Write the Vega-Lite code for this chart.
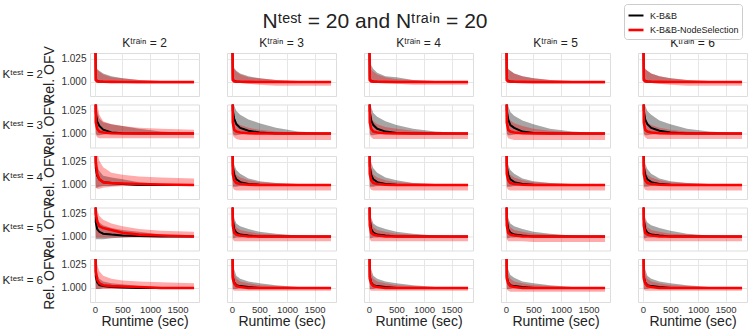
{
"$schema": "https://vega.github.io/schema/vega-lite/v6.json",
"padding": {"left": 2, "top": 3, "right": 2, "bottom": 0},
"title": {"text": "Nᵗᵉˢᵗ = 20 and Nᵗʳᵃⁱⁿ = 20", "fontSize": 21, "font": "Liberation Sans", "fontWeight": "normal", "anchor": "middle", "offset": -28, "color": "#222222"},
"data": {"values": [
{"r":2,"c":2,"m":"K-B&B","t":0,"y":1.1,"lo":1.05,"hi":1.2},
{"r":2,"c":2,"m":"K-B&B","t":15,"y":1.003,"lo":1,"hi":1.03},
{"r":2,"c":2,"m":"K-B&B","t":40,"y":1.001,"lo":1,"hi":1.014},
{"r":2,"c":2,"m":"K-B&B","t":80,"y":1.0005,"lo":1,"hi":1.012},
{"r":2,"c":2,"m":"K-B&B","t":150,"y":1.0002,"lo":1,"hi":1.009},
{"r":2,"c":2,"m":"K-B&B","t":300,"y":1.0001,"lo":1,"hi":1.006},
{"r":2,"c":2,"m":"K-B&B","t":500,"y":1,"lo":1,"hi":1.004},
{"r":2,"c":2,"m":"K-B&B","t":800,"y":1,"lo":1,"hi":1.002},
{"r":2,"c":2,"m":"K-B&B","t":1200,"y":1,"lo":1,"hi":1.001},
{"r":2,"c":2,"m":"K-B&B","t":1800,"y":1,"lo":1,"hi":1},
{"r":2,"c":2,"m":"K-B&B-NodeSelection","t":0,"y":1.1,"lo":1.05,"hi":1.2},
{"r":2,"c":2,"m":"K-B&B-NodeSelection","t":15,"y":1.002,"lo":0.999,"hi":1.029},
{"r":2,"c":2,"m":"K-B&B-NodeSelection","t":40,"y":1.0008,"lo":0.999,"hi":1.013},
{"r":2,"c":2,"m":"K-B&B-NodeSelection","t":80,"y":1.0004,"lo":0.999,"hi":1.011},
{"r":2,"c":2,"m":"K-B&B-NodeSelection","t":150,"y":1.0002,"lo":0.999,"hi":1.008},
{"r":2,"c":2,"m":"K-B&B-NodeSelection","t":300,"y":1.0001,"lo":0.999,"hi":1.005},
{"r":2,"c":2,"m":"K-B&B-NodeSelection","t":500,"y":1,"lo":0.999,"hi":1.004},
{"r":2,"c":2,"m":"K-B&B-NodeSelection","t":800,"y":1,"lo":0.998,"hi":1.002},
{"r":2,"c":2,"m":"K-B&B-NodeSelection","t":1200,"y":1,"lo":0.998,"hi":1.001},
{"r":2,"c":2,"m":"K-B&B-NodeSelection","t":1800,"y":1,"lo":0.998,"hi":1},
{"r":2,"c":3,"m":"K-B&B","t":0,"y":1.1,"lo":1.05,"hi":1.2},
{"r":2,"c":3,"m":"K-B&B","t":15,"y":1.003,"lo":1,"hi":1.03},
{"r":2,"c":3,"m":"K-B&B","t":40,"y":1.001,"lo":1,"hi":1.015},
{"r":2,"c":3,"m":"K-B&B","t":80,"y":1.0005,"lo":1,"hi":1.012},
{"r":2,"c":3,"m":"K-B&B","t":150,"y":1.0002,"lo":1,"hi":1.009},
{"r":2,"c":3,"m":"K-B&B","t":300,"y":1.0001,"lo":1,"hi":1.006},
{"r":2,"c":3,"m":"K-B&B","t":500,"y":1,"lo":1,"hi":1.004},
{"r":2,"c":3,"m":"K-B&B","t":800,"y":1,"lo":1,"hi":1.002},
{"r":2,"c":3,"m":"K-B&B","t":1200,"y":1,"lo":1,"hi":1.001},
{"r":2,"c":3,"m":"K-B&B","t":1800,"y":1,"lo":1,"hi":1},
{"r":2,"c":3,"m":"K-B&B-NodeSelection","t":0,"y":1.1,"lo":1.05,"hi":1.2},
{"r":2,"c":3,"m":"K-B&B-NodeSelection","t":15,"y":1.002,"lo":0.999,"hi":1.029},
{"r":2,"c":3,"m":"K-B&B-NodeSelection","t":40,"y":1.0008,"lo":0.999,"hi":1.014},
{"r":2,"c":3,"m":"K-B&B-NodeSelection","t":80,"y":1.0004,"lo":0.999,"hi":1.011},
{"r":2,"c":3,"m":"K-B&B-NodeSelection","t":150,"y":1.0002,"lo":0.999,"hi":1.008},
{"r":2,"c":3,"m":"K-B&B-NodeSelection","t":300,"y":1.0001,"lo":0.998,"hi":1.005},
{"r":2,"c":3,"m":"K-B&B-NodeSelection","t":500,"y":1,"lo":0.997,"hi":1.004},
{"r":2,"c":3,"m":"K-B&B-NodeSelection","t":800,"y":1,"lo":0.996,"hi":1.002},
{"r":2,"c":3,"m":"K-B&B-NodeSelection","t":1200,"y":1,"lo":0.996,"hi":1.001},
{"r":2,"c":3,"m":"K-B&B-NodeSelection","t":1800,"y":1,"lo":0.996,"hi":1},
{"r":2,"c":4,"m":"K-B&B","t":0,"y":1.1,"lo":1.05,"hi":1.2},
{"r":2,"c":4,"m":"K-B&B","t":15,"y":1.003,"lo":1,"hi":1.031},
{"r":2,"c":4,"m":"K-B&B","t":40,"y":1.001,"lo":1,"hi":1.018},
{"r":2,"c":4,"m":"K-B&B","t":80,"y":1.0005,"lo":1,"hi":1.014},
{"r":2,"c":4,"m":"K-B&B","t":150,"y":1.0002,"lo":1,"hi":1.01},
{"r":2,"c":4,"m":"K-B&B","t":300,"y":1.0001,"lo":1,"hi":1.006},
{"r":2,"c":4,"m":"K-B&B","t":500,"y":1,"lo":1,"hi":1.005},
{"r":2,"c":4,"m":"K-B&B","t":800,"y":1,"lo":1,"hi":1.002},
{"r":2,"c":4,"m":"K-B&B","t":1200,"y":1,"lo":1,"hi":1.001},
{"r":2,"c":4,"m":"K-B&B","t":1800,"y":1,"lo":1,"hi":1},
{"r":2,"c":4,"m":"K-B&B-NodeSelection","t":0,"y":1.1,"lo":1.05,"hi":1.2},
{"r":2,"c":4,"m":"K-B&B-NodeSelection","t":15,"y":1.002,"lo":0.999,"hi":1.029},
{"r":2,"c":4,"m":"K-B&B-NodeSelection","t":40,"y":1.0008,"lo":0.999,"hi":1.013},
{"r":2,"c":4,"m":"K-B&B-NodeSelection","t":80,"y":1.0004,"lo":0.999,"hi":1.011},
{"r":2,"c":4,"m":"K-B&B-NodeSelection","t":150,"y":1.0002,"lo":0.999,"hi":1.008},
{"r":2,"c":4,"m":"K-B&B-NodeSelection","t":300,"y":1.0001,"lo":0.999,"hi":1.005},
{"r":2,"c":4,"m":"K-B&B-NodeSelection","t":500,"y":1,"lo":0.998,"hi":1.003},
{"r":2,"c":4,"m":"K-B&B-NodeSelection","t":800,"y":1,"lo":0.997,"hi":1.002},
{"r":2,"c":4,"m":"K-B&B-NodeSelection","t":1200,"y":1,"lo":0.997,"hi":1.001},
{"r":2,"c":4,"m":"K-B&B-NodeSelection","t":1800,"y":1,"lo":0.997,"hi":1},
{"r":2,"c":5,"m":"K-B&B","t":0,"y":1.1,"lo":1.05,"hi":1.2},
{"r":2,"c":5,"m":"K-B&B","t":15,"y":1.003,"lo":1,"hi":1.03},
{"r":2,"c":5,"m":"K-B&B","t":40,"y":1.001,"lo":1,"hi":1.014},
{"r":2,"c":5,"m":"K-B&B","t":80,"y":1.0005,"lo":1,"hi":1.012},
{"r":2,"c":5,"m":"K-B&B","t":150,"y":1.0002,"lo":1,"hi":1.009},
{"r":2,"c":5,"m":"K-B&B","t":300,"y":1.0001,"lo":1,"hi":1.006},
{"r":2,"c":5,"m":"K-B&B","t":500,"y":1,"lo":1,"hi":1.004},
{"r":2,"c":5,"m":"K-B&B","t":800,"y":1,"lo":1,"hi":1.002},
{"r":2,"c":5,"m":"K-B&B","t":1200,"y":1,"lo":1,"hi":1.001},
{"r":2,"c":5,"m":"K-B&B","t":1800,"y":1,"lo":1,"hi":1},
{"r":2,"c":5,"m":"K-B&B-NodeSelection","t":0,"y":1.1,"lo":1.05,"hi":1.2},
{"r":2,"c":5,"m":"K-B&B-NodeSelection","t":15,"y":1.002,"lo":0.999,"hi":1.029},
{"r":2,"c":5,"m":"K-B&B-NodeSelection","t":40,"y":1.0008,"lo":0.999,"hi":1.014},
{"r":2,"c":5,"m":"K-B&B-NodeSelection","t":80,"y":1.0004,"lo":0.999,"hi":1.012},
{"r":2,"c":5,"m":"K-B&B-NodeSelection","t":150,"y":1.0002,"lo":0.999,"hi":1.009},
{"r":2,"c":5,"m":"K-B&B-NodeSelection","t":300,"y":1.0001,"lo":0.999,"hi":1.006},
{"r":2,"c":5,"m":"K-B&B-NodeSelection","t":500,"y":1,"lo":0.998,"hi":1.004},
{"r":2,"c":5,"m":"K-B&B-NodeSelection","t":800,"y":1,"lo":0.998,"hi":1.002},
{"r":2,"c":5,"m":"K-B&B-NodeSelection","t":1200,"y":1,"lo":0.998,"hi":1.001},
{"r":2,"c":5,"m":"K-B&B-NodeSelection","t":1800,"y":1,"lo":0.998,"hi":1},
{"r":2,"c":6,"m":"K-B&B","t":0,"y":1.1,"lo":1.05,"hi":1.2},
{"r":2,"c":6,"m":"K-B&B","t":15,"y":1.003,"lo":1,"hi":1.03},
{"r":2,"c":6,"m":"K-B&B","t":40,"y":1.001,"lo":1,"hi":1.014},
{"r":2,"c":6,"m":"K-B&B","t":80,"y":1.0005,"lo":1,"hi":1.012},
{"r":2,"c":6,"m":"K-B&B","t":150,"y":1.0002,"lo":1,"hi":1.009},
{"r":2,"c":6,"m":"K-B&B","t":300,"y":1.0001,"lo":1,"hi":1.006},
{"r":2,"c":6,"m":"K-B&B","t":500,"y":1,"lo":1,"hi":1.004},
{"r":2,"c":6,"m":"K-B&B","t":800,"y":1,"lo":1,"hi":1.002},
{"r":2,"c":6,"m":"K-B&B","t":1200,"y":1,"lo":1,"hi":1.001},
{"r":2,"c":6,"m":"K-B&B","t":1800,"y":1,"lo":1,"hi":1},
{"r":2,"c":6,"m":"K-B&B-NodeSelection","t":0,"y":1.1,"lo":1.05,"hi":1.2},
{"r":2,"c":6,"m":"K-B&B-NodeSelection","t":15,"y":1.002,"lo":0.999,"hi":1.029},
{"r":2,"c":6,"m":"K-B&B-NodeSelection","t":40,"y":1.0008,"lo":0.999,"hi":1.014},
{"r":2,"c":6,"m":"K-B&B-NodeSelection","t":80,"y":1.0004,"lo":0.999,"hi":1.012},
{"r":2,"c":6,"m":"K-B&B-NodeSelection","t":150,"y":1.0002,"lo":0.999,"hi":1.009},
{"r":2,"c":6,"m":"K-B&B-NodeSelection","t":300,"y":1.0001,"lo":0.998,"hi":1.006},
{"r":2,"c":6,"m":"K-B&B-NodeSelection","t":500,"y":1,"lo":0.997,"hi":1.004},
{"r":2,"c":6,"m":"K-B&B-NodeSelection","t":800,"y":1,"lo":0.996,"hi":1.002},
{"r":2,"c":6,"m":"K-B&B-NodeSelection","t":1200,"y":1,"lo":0.996,"hi":1.001},
{"r":2,"c":6,"m":"K-B&B-NodeSelection","t":1800,"y":1,"lo":0.996,"hi":1},
{"r":3,"c":2,"m":"K-B&B","t":0,"y":1.1,"lo":1.05,"hi":1.2},
{"r":3,"c":2,"m":"K-B&B","t":15,"y":1.022,"lo":1,"hi":1.04},
{"r":3,"c":2,"m":"K-B&B","t":40,"y":1.013,"lo":0.998,"hi":1.025},
{"r":3,"c":2,"m":"K-B&B","t":80,"y":1.008,"lo":0.998,"hi":1.016},
{"r":3,"c":2,"m":"K-B&B","t":150,"y":1.004,"lo":0.999,"hi":1.012},
{"r":3,"c":2,"m":"K-B&B","t":300,"y":1.001,"lo":1,"hi":1.01},
{"r":3,"c":2,"m":"K-B&B","t":500,"y":1.0002,"lo":1,"hi":1.008},
{"r":3,"c":2,"m":"K-B&B","t":800,"y":1,"lo":1,"hi":1.005},
{"r":3,"c":2,"m":"K-B&B","t":1200,"y":1,"lo":1,"hi":1.002},
{"r":3,"c":2,"m":"K-B&B","t":1800,"y":1,"lo":1,"hi":1},
{"r":3,"c":2,"m":"K-B&B-NodeSelection","t":0,"y":1.1,"lo":1.05,"hi":1.2},
{"r":3,"c":2,"m":"K-B&B-NodeSelection","t":15,"y":1.012,"lo":0.998,"hi":1.045},
{"r":3,"c":2,"m":"K-B&B-NodeSelection","t":40,"y":1.005,"lo":0.996,"hi":1.032},
{"r":3,"c":2,"m":"K-B&B-NodeSelection","t":80,"y":1.002,"lo":0.995,"hi":1.02},
{"r":3,"c":2,"m":"K-B&B-NodeSelection","t":150,"y":1.001,"lo":0.995,"hi":1.013},
{"r":3,"c":2,"m":"K-B&B-NodeSelection","t":300,"y":1.0003,"lo":0.995,"hi":1.01},
{"r":3,"c":2,"m":"K-B&B-NodeSelection","t":500,"y":1,"lo":0.995,"hi":1.008},
{"r":3,"c":2,"m":"K-B&B-NodeSelection","t":800,"y":1,"lo":0.995,"hi":1.006},
{"r":3,"c":2,"m":"K-B&B-NodeSelection","t":1200,"y":1,"lo":0.995,"hi":1.005},
{"r":3,"c":2,"m":"K-B&B-NodeSelection","t":1800,"y":1,"lo":0.995,"hi":1.004},
{"r":3,"c":3,"m":"K-B&B","t":0,"y":1.1,"lo":1.05,"hi":1.2},
{"r":3,"c":3,"m":"K-B&B","t":15,"y":1.025,"lo":1,"hi":1.04},
{"r":3,"c":3,"m":"K-B&B","t":40,"y":1.016,"lo":0.998,"hi":1.03},
{"r":3,"c":3,"m":"K-B&B","t":80,"y":1.01,"lo":0.998,"hi":1.024},
{"r":3,"c":3,"m":"K-B&B","t":150,"y":1.006,"lo":0.999,"hi":1.02},
{"r":3,"c":3,"m":"K-B&B","t":300,"y":1.003,"lo":1,"hi":1.015},
{"r":3,"c":3,"m":"K-B&B","t":500,"y":1.001,"lo":1,"hi":1.011},
{"r":3,"c":3,"m":"K-B&B","t":800,"y":1,"lo":1,"hi":1.006},
{"r":3,"c":3,"m":"K-B&B","t":1200,"y":1,"lo":1,"hi":1.002},
{"r":3,"c":3,"m":"K-B&B","t":1800,"y":1,"lo":1,"hi":1},
{"r":3,"c":3,"m":"K-B&B-NodeSelection","t":0,"y":1.1,"lo":1.05,"hi":1.2},
{"r":3,"c":3,"m":"K-B&B-NodeSelection","t":15,"y":1.012,"lo":0.998,"hi":1.035},
{"r":3,"c":3,"m":"K-B&B-NodeSelection","t":40,"y":1.004,"lo":0.996,"hi":1.018},
{"r":3,"c":3,"m":"K-B&B-NodeSelection","t":80,"y":1.002,"lo":0.994,"hi":1.012},
{"r":3,"c":3,"m":"K-B&B-NodeSelection","t":150,"y":1.001,"lo":0.993,"hi":1.009},
{"r":3,"c":3,"m":"K-B&B-NodeSelection","t":300,"y":1.0003,"lo":0.993,"hi":1.006},
{"r":3,"c":3,"m":"K-B&B-NodeSelection","t":500,"y":1,"lo":0.993,"hi":1.004},
{"r":3,"c":3,"m":"K-B&B-NodeSelection","t":800,"y":1,"lo":0.993,"hi":1.002},
{"r":3,"c":3,"m":"K-B&B-NodeSelection","t":1200,"y":1,"lo":0.993,"hi":1.001},
{"r":3,"c":3,"m":"K-B&B-NodeSelection","t":1800,"y":1,"lo":0.993,"hi":1},
{"r":3,"c":4,"m":"K-B&B","t":0,"y":1.1,"lo":1.05,"hi":1.2},
{"r":3,"c":4,"m":"K-B&B","t":15,"y":1.024,"lo":1,"hi":1.04},
{"r":3,"c":4,"m":"K-B&B","t":40,"y":1.014,"lo":0.998,"hi":1.028},
{"r":3,"c":4,"m":"K-B&B","t":80,"y":1.009,"lo":0.998,"hi":1.022},
{"r":3,"c":4,"m":"K-B&B","t":150,"y":1.005,"lo":0.999,"hi":1.018},
{"r":3,"c":4,"m":"K-B&B","t":300,"y":1.002,"lo":1,"hi":1.013},
{"r":3,"c":4,"m":"K-B&B","t":500,"y":1.0005,"lo":1,"hi":1.009},
{"r":3,"c":4,"m":"K-B&B","t":800,"y":1,"lo":1,"hi":1.005},
{"r":3,"c":4,"m":"K-B&B","t":1200,"y":1,"lo":1,"hi":1.002},
{"r":3,"c":4,"m":"K-B&B","t":1800,"y":1,"lo":1,"hi":1},
{"r":3,"c":4,"m":"K-B&B-NodeSelection","t":0,"y":1.1,"lo":1.05,"hi":1.2},
{"r":3,"c":4,"m":"K-B&B-NodeSelection","t":15,"y":1.012,"lo":0.998,"hi":1.035},
{"r":3,"c":4,"m":"K-B&B-NodeSelection","t":40,"y":1.005,"lo":0.996,"hi":1.02},
{"r":3,"c":4,"m":"K-B&B-NodeSelection","t":80,"y":1.002,"lo":0.994,"hi":1.013},
{"r":3,"c":4,"m":"K-B&B-NodeSelection","t":150,"y":1.001,"lo":0.994,"hi":1.01},
{"r":3,"c":4,"m":"K-B&B-NodeSelection","t":300,"y":1.0003,"lo":0.994,"hi":1.007},
{"r":3,"c":4,"m":"K-B&B-NodeSelection","t":500,"y":1,"lo":0.994,"hi":1.005},
{"r":3,"c":4,"m":"K-B&B-NodeSelection","t":800,"y":1,"lo":0.994,"hi":1.003},
{"r":3,"c":4,"m":"K-B&B-NodeSelection","t":1200,"y":1,"lo":0.994,"hi":1.001},
{"r":3,"c":4,"m":"K-B&B-NodeSelection","t":1800,"y":1,"lo":0.994,"hi":1},
{"r":3,"c":5,"m":"K-B&B","t":0,"y":1.1,"lo":1.05,"hi":1.2},
{"r":3,"c":5,"m":"K-B&B","t":15,"y":1.025,"lo":1,"hi":1.04},
{"r":3,"c":5,"m":"K-B&B","t":40,"y":1.015,"lo":0.998,"hi":1.03},
{"r":3,"c":5,"m":"K-B&B","t":80,"y":1.009,"lo":0.998,"hi":1.023},
{"r":3,"c":5,"m":"K-B&B","t":150,"y":1.006,"lo":0.999,"hi":1.019},
{"r":3,"c":5,"m":"K-B&B","t":300,"y":1.002,"lo":1,"hi":1.014},
{"r":3,"c":5,"m":"K-B&B","t":500,"y":1.0005,"lo":1,"hi":1.01},
{"r":3,"c":5,"m":"K-B&B","t":800,"y":1,"lo":1,"hi":1.005},
{"r":3,"c":5,"m":"K-B&B","t":1200,"y":1,"lo":1,"hi":1.002},
{"r":3,"c":5,"m":"K-B&B","t":1800,"y":1,"lo":1,"hi":1},
{"r":3,"c":5,"m":"K-B&B-NodeSelection","t":0,"y":1.1,"lo":1.05,"hi":1.2},
{"r":3,"c":5,"m":"K-B&B-NodeSelection","t":15,"y":1.012,"lo":0.998,"hi":1.035},
{"r":3,"c":5,"m":"K-B&B-NodeSelection","t":40,"y":1.004,"lo":0.995,"hi":1.02},
{"r":3,"c":5,"m":"K-B&B-NodeSelection","t":80,"y":1.002,"lo":0.994,"hi":1.014},
{"r":3,"c":5,"m":"K-B&B-NodeSelection","t":150,"y":1.001,"lo":0.993,"hi":1.011},
{"r":3,"c":5,"m":"K-B&B-NodeSelection","t":300,"y":1.0003,"lo":0.993,"hi":1.008},
{"r":3,"c":5,"m":"K-B&B-NodeSelection","t":500,"y":1,"lo":0.993,"hi":1.005},
{"r":3,"c":5,"m":"K-B&B-NodeSelection","t":800,"y":1,"lo":0.993,"hi":1.003},
{"r":3,"c":5,"m":"K-B&B-NodeSelection","t":1200,"y":1,"lo":0.993,"hi":1.001},
{"r":3,"c":5,"m":"K-B&B-NodeSelection","t":1800,"y":1,"lo":0.993,"hi":1},
{"r":3,"c":6,"m":"K-B&B","t":0,"y":1.1,"lo":1.05,"hi":1.2},
{"r":3,"c":6,"m":"K-B&B","t":15,"y":1.025,"lo":1,"hi":1.04},
{"r":3,"c":6,"m":"K-B&B","t":40,"y":1.015,"lo":0.998,"hi":1.03},
{"r":3,"c":6,"m":"K-B&B","t":80,"y":1.01,"lo":0.998,"hi":1.024},
{"r":3,"c":6,"m":"K-B&B","t":150,"y":1.006,"lo":0.999,"hi":1.02},
{"r":3,"c":6,"m":"K-B&B","t":300,"y":1.003,"lo":1,"hi":1.014},
{"r":3,"c":6,"m":"K-B&B","t":500,"y":1.001,"lo":1,"hi":1.01},
{"r":3,"c":6,"m":"K-B&B","t":800,"y":1,"lo":1,"hi":1.005},
{"r":3,"c":6,"m":"K-B&B","t":1200,"y":1,"lo":1,"hi":1.002},
{"r":3,"c":6,"m":"K-B&B","t":1800,"y":1,"lo":1,"hi":1},
{"r":3,"c":6,"m":"K-B&B-NodeSelection","t":0,"y":1.1,"lo":1.05,"hi":1.2},
{"r":3,"c":6,"m":"K-B&B-NodeSelection","t":15,"y":1.012,"lo":0.998,"hi":1.035},
{"r":3,"c":6,"m":"K-B&B-NodeSelection","t":40,"y":1.004,"lo":0.996,"hi":1.018},
{"r":3,"c":6,"m":"K-B&B-NodeSelection","t":80,"y":1.002,"lo":0.994,"hi":1.012},
{"r":3,"c":6,"m":"K-B&B-NodeSelection","t":150,"y":1.001,"lo":0.994,"hi":1.009},
{"r":3,"c":6,"m":"K-B&B-NodeSelection","t":300,"y":1.0003,"lo":0.994,"hi":1.006},
{"r":3,"c":6,"m":"K-B&B-NodeSelection","t":500,"y":1,"lo":0.994,"hi":1.004},
{"r":3,"c":6,"m":"K-B&B-NodeSelection","t":800,"y":1,"lo":0.994,"hi":1.002},
{"r":3,"c":6,"m":"K-B&B-NodeSelection","t":1200,"y":1,"lo":0.994,"hi":1.001},
{"r":3,"c":6,"m":"K-B&B-NodeSelection","t":1800,"y":1,"lo":0.994,"hi":1},
{"r":4,"c":2,"m":"K-B&B","t":0,"y":1.1,"lo":1.05,"hi":1.2},
{"r":4,"c":2,"m":"K-B&B","t":15,"y":1.018,"lo":0.997,"hi":1.03},
{"r":4,"c":2,"m":"K-B&B","t":40,"y":1.01,"lo":0.997,"hi":1.02},
{"r":4,"c":2,"m":"K-B&B","t":80,"y":1.006,"lo":0.998,"hi":1.015},
{"r":4,"c":2,"m":"K-B&B","t":150,"y":1.003,"lo":0.999,"hi":1.01},
{"r":4,"c":2,"m":"K-B&B","t":300,"y":1.002,"lo":0.999,"hi":1.008},
{"r":4,"c":2,"m":"K-B&B","t":500,"y":1.001,"lo":1,"hi":1.006},
{"r":4,"c":2,"m":"K-B&B","t":800,"y":1,"lo":1,"hi":1.003},
{"r":4,"c":2,"m":"K-B&B","t":1200,"y":1,"lo":1,"hi":1.001},
{"r":4,"c":2,"m":"K-B&B","t":1800,"y":1,"lo":1,"hi":1},
{"r":4,"c":2,"m":"K-B&B-NodeSelection","t":0,"y":1.1,"lo":1.05,"hi":1.2},
{"r":4,"c":2,"m":"K-B&B-NodeSelection","t":15,"y":1.025,"lo":0.997,"hi":1.045},
{"r":4,"c":2,"m":"K-B&B-NodeSelection","t":40,"y":1.012,"lo":0.996,"hi":1.034},
{"r":4,"c":2,"m":"K-B&B-NodeSelection","t":80,"y":1.006,"lo":0.996,"hi":1.026},
{"r":4,"c":2,"m":"K-B&B-NodeSelection","t":150,"y":1.003,"lo":0.997,"hi":1.019},
{"r":4,"c":2,"m":"K-B&B-NodeSelection","t":300,"y":1.002,"lo":0.998,"hi":1.013},
{"r":4,"c":2,"m":"K-B&B-NodeSelection","t":500,"y":1.0015,"lo":0.999,"hi":1.011},
{"r":4,"c":2,"m":"K-B&B-NodeSelection","t":800,"y":1.001,"lo":0.999,"hi":1.009},
{"r":4,"c":2,"m":"K-B&B-NodeSelection","t":1200,"y":1.0005,"lo":0.999,"hi":1.008},
{"r":4,"c":2,"m":"K-B&B-NodeSelection","t":1800,"y":1,"lo":0.999,"hi":1.007},
{"r":4,"c":3,"m":"K-B&B","t":0,"y":1.1,"lo":1.05,"hi":1.2},
{"r":4,"c":3,"m":"K-B&B","t":15,"y":1.02,"lo":0.998,"hi":1.035},
{"r":4,"c":3,"m":"K-B&B","t":40,"y":1.011,"lo":0.998,"hi":1.022},
{"r":4,"c":3,"m":"K-B&B","t":80,"y":1.006,"lo":0.998,"hi":1.016},
{"r":4,"c":3,"m":"K-B&B","t":150,"y":1.003,"lo":0.999,"hi":1.012},
{"r":4,"c":3,"m":"K-B&B","t":300,"y":1.001,"lo":1,"hi":1.007},
{"r":4,"c":3,"m":"K-B&B","t":500,"y":1.0003,"lo":1,"hi":1.004},
{"r":4,"c":3,"m":"K-B&B","t":800,"y":1,"lo":1,"hi":1.002},
{"r":4,"c":3,"m":"K-B&B","t":1200,"y":1,"lo":1,"hi":1.001},
{"r":4,"c":3,"m":"K-B&B","t":1800,"y":1,"lo":1,"hi":1},
{"r":4,"c":3,"m":"K-B&B-NodeSelection","t":0,"y":1.1,"lo":1.05,"hi":1.2},
{"r":4,"c":3,"m":"K-B&B-NodeSelection","t":15,"y":1.012,"lo":0.997,"hi":1.03},
{"r":4,"c":3,"m":"K-B&B-NodeSelection","t":40,"y":1.005,"lo":0.995,"hi":1.018},
{"r":4,"c":3,"m":"K-B&B-NodeSelection","t":80,"y":1.002,"lo":0.994,"hi":1.011},
{"r":4,"c":3,"m":"K-B&B-NodeSelection","t":150,"y":1.001,"lo":0.994,"hi":1.008},
{"r":4,"c":3,"m":"K-B&B-NodeSelection","t":300,"y":1.0003,"lo":0.994,"hi":1.005},
{"r":4,"c":3,"m":"K-B&B-NodeSelection","t":500,"y":1,"lo":0.994,"hi":1.003},
{"r":4,"c":3,"m":"K-B&B-NodeSelection","t":800,"y":1,"lo":0.994,"hi":1.002},
{"r":4,"c":3,"m":"K-B&B-NodeSelection","t":1200,"y":1,"lo":0.994,"hi":1.001},
{"r":4,"c":3,"m":"K-B&B-NodeSelection","t":1800,"y":1,"lo":0.994,"hi":1},
{"r":4,"c":4,"m":"K-B&B","t":0,"y":1.1,"lo":1.05,"hi":1.2},
{"r":4,"c":4,"m":"K-B&B","t":15,"y":1.02,"lo":0.998,"hi":1.035},
{"r":4,"c":4,"m":"K-B&B","t":40,"y":1.011,"lo":0.998,"hi":1.024},
{"r":4,"c":4,"m":"K-B&B","t":80,"y":1.006,"lo":0.998,"hi":1.018},
{"r":4,"c":4,"m":"K-B&B","t":150,"y":1.003,"lo":0.999,"hi":1.013},
{"r":4,"c":4,"m":"K-B&B","t":300,"y":1.001,"lo":1,"hi":1.008},
{"r":4,"c":4,"m":"K-B&B","t":500,"y":1.0003,"lo":1,"hi":1.005},
{"r":4,"c":4,"m":"K-B&B","t":800,"y":1,"lo":1,"hi":1.002},
{"r":4,"c":4,"m":"K-B&B","t":1200,"y":1,"lo":1,"hi":1.001},
{"r":4,"c":4,"m":"K-B&B","t":1800,"y":1,"lo":1,"hi":1},
{"r":4,"c":4,"m":"K-B&B-NodeSelection","t":0,"y":1.1,"lo":1.05,"hi":1.2},
{"r":4,"c":4,"m":"K-B&B-NodeSelection","t":15,"y":1.012,"lo":0.997,"hi":1.03},
{"r":4,"c":4,"m":"K-B&B-NodeSelection","t":40,"y":1.005,"lo":0.995,"hi":1.018},
{"r":4,"c":4,"m":"K-B&B-NodeSelection","t":80,"y":1.002,"lo":0.994,"hi":1.011},
{"r":4,"c":4,"m":"K-B&B-NodeSelection","t":150,"y":1.001,"lo":0.994,"hi":1.008},
{"r":4,"c":4,"m":"K-B&B-NodeSelection","t":300,"y":1.0003,"lo":0.994,"hi":1.005},
{"r":4,"c":4,"m":"K-B&B-NodeSelection","t":500,"y":1,"lo":0.994,"hi":1.003},
{"r":4,"c":4,"m":"K-B&B-NodeSelection","t":800,"y":1,"lo":0.994,"hi":1.002},
{"r":4,"c":4,"m":"K-B&B-NodeSelection","t":1200,"y":1,"lo":0.994,"hi":1.001},
{"r":4,"c":4,"m":"K-B&B-NodeSelection","t":1800,"y":1,"lo":0.994,"hi":1},
{"r":4,"c":5,"m":"K-B&B","t":0,"y":1.1,"lo":1.05,"hi":1.2},
{"r":4,"c":5,"m":"K-B&B","t":15,"y":1.02,"lo":0.998,"hi":1.035},
{"r":4,"c":5,"m":"K-B&B","t":40,"y":1.011,"lo":0.998,"hi":1.022},
{"r":4,"c":5,"m":"K-B&B","t":80,"y":1.006,"lo":0.998,"hi":1.016},
{"r":4,"c":5,"m":"K-B&B","t":150,"y":1.003,"lo":0.999,"hi":1.012},
{"r":4,"c":5,"m":"K-B&B","t":300,"y":1.001,"lo":1,"hi":1.007},
{"r":4,"c":5,"m":"K-B&B","t":500,"y":1.0003,"lo":1,"hi":1.004},
{"r":4,"c":5,"m":"K-B&B","t":800,"y":1,"lo":1,"hi":1.002},
{"r":4,"c":5,"m":"K-B&B","t":1200,"y":1,"lo":1,"hi":1.001},
{"r":4,"c":5,"m":"K-B&B","t":1800,"y":1,"lo":1,"hi":1},
{"r":4,"c":5,"m":"K-B&B-NodeSelection","t":0,"y":1.1,"lo":1.05,"hi":1.2},
{"r":4,"c":5,"m":"K-B&B-NodeSelection","t":15,"y":1.012,"lo":0.997,"hi":1.03},
{"r":4,"c":5,"m":"K-B&B-NodeSelection","t":40,"y":1.005,"lo":0.995,"hi":1.018},
{"r":4,"c":5,"m":"K-B&B-NodeSelection","t":80,"y":1.002,"lo":0.994,"hi":1.011},
{"r":4,"c":5,"m":"K-B&B-NodeSelection","t":150,"y":1.001,"lo":0.994,"hi":1.008},
{"r":4,"c":5,"m":"K-B&B-NodeSelection","t":300,"y":1.0003,"lo":0.994,"hi":1.005},
{"r":4,"c":5,"m":"K-B&B-NodeSelection","t":500,"y":1,"lo":0.994,"hi":1.003},
{"r":4,"c":5,"m":"K-B&B-NodeSelection","t":800,"y":1,"lo":0.994,"hi":1.002},
{"r":4,"c":5,"m":"K-B&B-NodeSelection","t":1200,"y":1,"lo":0.994,"hi":1.001},
{"r":4,"c":5,"m":"K-B&B-NodeSelection","t":1800,"y":1,"lo":0.994,"hi":1},
{"r":4,"c":6,"m":"K-B&B","t":0,"y":1.1,"lo":1.05,"hi":1.2},
{"r":4,"c":6,"m":"K-B&B","t":15,"y":1.02,"lo":0.998,"hi":1.035},
{"r":4,"c":6,"m":"K-B&B","t":40,"y":1.011,"lo":0.998,"hi":1.023},
{"r":4,"c":6,"m":"K-B&B","t":80,"y":1.006,"lo":0.998,"hi":1.017},
{"r":4,"c":6,"m":"K-B&B","t":150,"y":1.003,"lo":0.999,"hi":1.012},
{"r":4,"c":6,"m":"K-B&B","t":300,"y":1.001,"lo":1,"hi":1.007},
{"r":4,"c":6,"m":"K-B&B","t":500,"y":1.0003,"lo":1,"hi":1.004},
{"r":4,"c":6,"m":"K-B&B","t":800,"y":1,"lo":1,"hi":1.002},
{"r":4,"c":6,"m":"K-B&B","t":1200,"y":1,"lo":1,"hi":1.001},
{"r":4,"c":6,"m":"K-B&B","t":1800,"y":1,"lo":1,"hi":1},
{"r":4,"c":6,"m":"K-B&B-NodeSelection","t":0,"y":1.1,"lo":1.05,"hi":1.2},
{"r":4,"c":6,"m":"K-B&B-NodeSelection","t":15,"y":1.012,"lo":0.997,"hi":1.03},
{"r":4,"c":6,"m":"K-B&B-NodeSelection","t":40,"y":1.005,"lo":0.995,"hi":1.018},
{"r":4,"c":6,"m":"K-B&B-NodeSelection","t":80,"y":1.002,"lo":0.994,"hi":1.011},
{"r":4,"c":6,"m":"K-B&B-NodeSelection","t":150,"y":1.001,"lo":0.994,"hi":1.008},
{"r":4,"c":6,"m":"K-B&B-NodeSelection","t":300,"y":1.0003,"lo":0.994,"hi":1.005},
{"r":4,"c":6,"m":"K-B&B-NodeSelection","t":500,"y":1,"lo":0.994,"hi":1.003},
{"r":4,"c":6,"m":"K-B&B-NodeSelection","t":800,"y":1,"lo":0.994,"hi":1.002},
{"r":4,"c":6,"m":"K-B&B-NodeSelection","t":1200,"y":1,"lo":0.994,"hi":1.001},
{"r":4,"c":6,"m":"K-B&B-NodeSelection","t":1800,"y":1,"lo":0.994,"hi":1},
{"r":5,"c":2,"m":"K-B&B","t":0,"y":1.1,"lo":1.05,"hi":1.2},
{"r":5,"c":2,"m":"K-B&B","t":15,"y":1.015,"lo":0.997,"hi":1.03},
{"r":5,"c":2,"m":"K-B&B","t":40,"y":1.008,"lo":0.997,"hi":1.02},
{"r":5,"c":2,"m":"K-B&B","t":80,"y":1.005,"lo":0.997,"hi":1.015},
{"r":5,"c":2,"m":"K-B&B","t":150,"y":1.003,"lo":0.997,"hi":1.012},
{"r":5,"c":2,"m":"K-B&B","t":300,"y":1.002,"lo":0.998,"hi":1.009},
{"r":5,"c":2,"m":"K-B&B","t":500,"y":1.001,"lo":0.999,"hi":1.007},
{"r":5,"c":2,"m":"K-B&B","t":800,"y":1.0005,"lo":1,"hi":1.005},
{"r":5,"c":2,"m":"K-B&B","t":1200,"y":1,"lo":1,"hi":1.002},
{"r":5,"c":2,"m":"K-B&B","t":1800,"y":1,"lo":1,"hi":1},
{"r":5,"c":2,"m":"K-B&B-NodeSelection","t":0,"y":1.1,"lo":1.05,"hi":1.2},
{"r":5,"c":2,"m":"K-B&B-NodeSelection","t":15,"y":1.025,"lo":0.999,"hi":1.045},
{"r":5,"c":2,"m":"K-B&B-NodeSelection","t":40,"y":1.016,"lo":0.999,"hi":1.028},
{"r":5,"c":2,"m":"K-B&B-NodeSelection","t":80,"y":1.011,"lo":0.999,"hi":1.022},
{"r":5,"c":2,"m":"K-B&B-NodeSelection","t":150,"y":1.009,"lo":0.999,"hi":1.018},
{"r":5,"c":2,"m":"K-B&B-NodeSelection","t":300,"y":1.007,"lo":0.999,"hi":1.014},
{"r":5,"c":2,"m":"K-B&B-NodeSelection","t":500,"y":1.004,"lo":0.999,"hi":1.011},
{"r":5,"c":2,"m":"K-B&B-NodeSelection","t":800,"y":1.002,"lo":0.999,"hi":1.008},
{"r":5,"c":2,"m":"K-B&B-NodeSelection","t":1200,"y":1.001,"lo":0.999,"hi":1.006},
{"r":5,"c":2,"m":"K-B&B-NodeSelection","t":1800,"y":1,"lo":0.999,"hi":1.005},
{"r":5,"c":3,"m":"K-B&B","t":0,"y":1.1,"lo":1.05,"hi":1.2},
{"r":5,"c":3,"m":"K-B&B","t":15,"y":1.018,"lo":0.998,"hi":1.035},
{"r":5,"c":3,"m":"K-B&B","t":40,"y":1.008,"lo":0.998,"hi":1.02},
{"r":5,"c":3,"m":"K-B&B","t":80,"y":1.004,"lo":0.999,"hi":1.014},
{"r":5,"c":3,"m":"K-B&B","t":150,"y":1.002,"lo":0.999,"hi":1.011},
{"r":5,"c":3,"m":"K-B&B","t":300,"y":1.001,"lo":1,"hi":1.008},
{"r":5,"c":3,"m":"K-B&B","t":500,"y":1,"lo":1,"hi":1.005},
{"r":5,"c":3,"m":"K-B&B","t":800,"y":1,"lo":1,"hi":1.003},
{"r":5,"c":3,"m":"K-B&B","t":1200,"y":1,"lo":1,"hi":1.001},
{"r":5,"c":3,"m":"K-B&B","t":1800,"y":1,"lo":1,"hi":1},
{"r":5,"c":3,"m":"K-B&B-NodeSelection","t":0,"y":1.1,"lo":1.05,"hi":1.2},
{"r":5,"c":3,"m":"K-B&B-NodeSelection","t":15,"y":1.012,"lo":0.997,"hi":1.03},
{"r":5,"c":3,"m":"K-B&B-NodeSelection","t":40,"y":1.004,"lo":0.995,"hi":1.017},
{"r":5,"c":3,"m":"K-B&B-NodeSelection","t":80,"y":1.002,"lo":0.995,"hi":1.01},
{"r":5,"c":3,"m":"K-B&B-NodeSelection","t":150,"y":1.001,"lo":0.995,"hi":1.007},
{"r":5,"c":3,"m":"K-B&B-NodeSelection","t":300,"y":1,"lo":0.995,"hi":1.005},
{"r":5,"c":3,"m":"K-B&B-NodeSelection","t":500,"y":1,"lo":0.995,"hi":1.003},
{"r":5,"c":3,"m":"K-B&B-NodeSelection","t":800,"y":1,"lo":0.995,"hi":1.002},
{"r":5,"c":3,"m":"K-B&B-NodeSelection","t":1200,"y":1,"lo":0.995,"hi":1.001},
{"r":5,"c":3,"m":"K-B&B-NodeSelection","t":1800,"y":1,"lo":0.995,"hi":1},
{"r":5,"c":4,"m":"K-B&B","t":0,"y":1.1,"lo":1.05,"hi":1.2},
{"r":5,"c":4,"m":"K-B&B","t":15,"y":1.018,"lo":0.998,"hi":1.035},
{"r":5,"c":4,"m":"K-B&B","t":40,"y":1.008,"lo":0.998,"hi":1.02},
{"r":5,"c":4,"m":"K-B&B","t":80,"y":1.004,"lo":0.999,"hi":1.014},
{"r":5,"c":4,"m":"K-B&B","t":150,"y":1.002,"lo":0.999,"hi":1.011},
{"r":5,"c":4,"m":"K-B&B","t":300,"y":1.001,"lo":1,"hi":1.008},
{"r":5,"c":4,"m":"K-B&B","t":500,"y":1,"lo":1,"hi":1.005},
{"r":5,"c":4,"m":"K-B&B","t":800,"y":1,"lo":1,"hi":1.003},
{"r":5,"c":4,"m":"K-B&B","t":1200,"y":1,"lo":1,"hi":1.001},
{"r":5,"c":4,"m":"K-B&B","t":1800,"y":1,"lo":1,"hi":1},
{"r":5,"c":4,"m":"K-B&B-NodeSelection","t":0,"y":1.1,"lo":1.05,"hi":1.2},
{"r":5,"c":4,"m":"K-B&B-NodeSelection","t":15,"y":1.012,"lo":0.997,"hi":1.03},
{"r":5,"c":4,"m":"K-B&B-NodeSelection","t":40,"y":1.004,"lo":0.995,"hi":1.017},
{"r":5,"c":4,"m":"K-B&B-NodeSelection","t":80,"y":1.002,"lo":0.995,"hi":1.01},
{"r":5,"c":4,"m":"K-B&B-NodeSelection","t":150,"y":1.001,"lo":0.995,"hi":1.007},
{"r":5,"c":4,"m":"K-B&B-NodeSelection","t":300,"y":1,"lo":0.995,"hi":1.005},
{"r":5,"c":4,"m":"K-B&B-NodeSelection","t":500,"y":1,"lo":0.995,"hi":1.003},
{"r":5,"c":4,"m":"K-B&B-NodeSelection","t":800,"y":1,"lo":0.995,"hi":1.002},
{"r":5,"c":4,"m":"K-B&B-NodeSelection","t":1200,"y":1,"lo":0.995,"hi":1.001},
{"r":5,"c":4,"m":"K-B&B-NodeSelection","t":1800,"y":1,"lo":0.995,"hi":1},
{"r":5,"c":5,"m":"K-B&B","t":0,"y":1.1,"lo":1.05,"hi":1.2},
{"r":5,"c":5,"m":"K-B&B","t":15,"y":1.018,"lo":0.998,"hi":1.035},
{"r":5,"c":5,"m":"K-B&B","t":40,"y":1.008,"lo":0.998,"hi":1.02},
{"r":5,"c":5,"m":"K-B&B","t":80,"y":1.004,"lo":0.999,"hi":1.014},
{"r":5,"c":5,"m":"K-B&B","t":150,"y":1.002,"lo":0.999,"hi":1.011},
{"r":5,"c":5,"m":"K-B&B","t":300,"y":1.001,"lo":1,"hi":1.008},
{"r":5,"c":5,"m":"K-B&B","t":500,"y":1,"lo":1,"hi":1.005},
{"r":5,"c":5,"m":"K-B&B","t":800,"y":1,"lo":1,"hi":1.003},
{"r":5,"c":5,"m":"K-B&B","t":1200,"y":1,"lo":1,"hi":1.001},
{"r":5,"c":5,"m":"K-B&B","t":1800,"y":1,"lo":1,"hi":1},
{"r":5,"c":5,"m":"K-B&B-NodeSelection","t":0,"y":1.1,"lo":1.05,"hi":1.2},
{"r":5,"c":5,"m":"K-B&B-NodeSelection","t":15,"y":1.012,"lo":0.997,"hi":1.03},
{"r":5,"c":5,"m":"K-B&B-NodeSelection","t":40,"y":1.004,"lo":0.995,"hi":1.017},
{"r":5,"c":5,"m":"K-B&B-NodeSelection","t":80,"y":1.002,"lo":0.995,"hi":1.01},
{"r":5,"c":5,"m":"K-B&B-NodeSelection","t":150,"y":1.001,"lo":0.995,"hi":1.007},
{"r":5,"c":5,"m":"K-B&B-NodeSelection","t":300,"y":1,"lo":0.995,"hi":1.005},
{"r":5,"c":5,"m":"K-B&B-NodeSelection","t":500,"y":1,"lo":0.994,"hi":1.003},
{"r":5,"c":5,"m":"K-B&B-NodeSelection","t":800,"y":1,"lo":0.994,"hi":1.002},
{"r":5,"c":5,"m":"K-B&B-NodeSelection","t":1200,"y":1,"lo":0.994,"hi":1.001},
{"r":5,"c":5,"m":"K-B&B-NodeSelection","t":1800,"y":1,"lo":0.994,"hi":1},
{"r":5,"c":6,"m":"K-B&B","t":0,"y":1.1,"lo":1.05,"hi":1.2},
{"r":5,"c":6,"m":"K-B&B","t":15,"y":1.018,"lo":0.998,"hi":1.035},
{"r":5,"c":6,"m":"K-B&B","t":40,"y":1.008,"lo":0.998,"hi":1.02},
{"r":5,"c":6,"m":"K-B&B","t":80,"y":1.004,"lo":0.999,"hi":1.015},
{"r":5,"c":6,"m":"K-B&B","t":150,"y":1.002,"lo":0.999,"hi":1.012},
{"r":5,"c":6,"m":"K-B&B","t":300,"y":1.001,"lo":1,"hi":1.009},
{"r":5,"c":6,"m":"K-B&B","t":500,"y":1,"lo":1,"hi":1.006},
{"r":5,"c":6,"m":"K-B&B","t":800,"y":1,"lo":1,"hi":1.003},
{"r":5,"c":6,"m":"K-B&B","t":1200,"y":1,"lo":1,"hi":1.001},
{"r":5,"c":6,"m":"K-B&B","t":1800,"y":1,"lo":1,"hi":1},
{"r":5,"c":6,"m":"K-B&B-NodeSelection","t":0,"y":1.1,"lo":1.05,"hi":1.2},
{"r":5,"c":6,"m":"K-B&B-NodeSelection","t":15,"y":1.012,"lo":0.997,"hi":1.03},
{"r":5,"c":6,"m":"K-B&B-NodeSelection","t":40,"y":1.004,"lo":0.995,"hi":1.017},
{"r":5,"c":6,"m":"K-B&B-NodeSelection","t":80,"y":1.002,"lo":0.995,"hi":1.01},
{"r":5,"c":6,"m":"K-B&B-NodeSelection","t":150,"y":1.001,"lo":0.995,"hi":1.007},
{"r":5,"c":6,"m":"K-B&B-NodeSelection","t":300,"y":1,"lo":0.995,"hi":1.005},
{"r":5,"c":6,"m":"K-B&B-NodeSelection","t":500,"y":1,"lo":0.995,"hi":1.003},
{"r":5,"c":6,"m":"K-B&B-NodeSelection","t":800,"y":1,"lo":0.995,"hi":1.002},
{"r":5,"c":6,"m":"K-B&B-NodeSelection","t":1200,"y":1,"lo":0.995,"hi":1.001},
{"r":5,"c":6,"m":"K-B&B-NodeSelection","t":1800,"y":1,"lo":0.995,"hi":1},
{"r":6,"c":2,"m":"K-B&B","t":0,"y":1.1,"lo":1.05,"hi":1.2},
{"r":6,"c":2,"m":"K-B&B","t":15,"y":1.012,"lo":0.999,"hi":1.025},
{"r":6,"c":2,"m":"K-B&B","t":40,"y":1.006,"lo":0.999,"hi":1.015},
{"r":6,"c":2,"m":"K-B&B","t":80,"y":1.003,"lo":0.999,"hi":1.01},
{"r":6,"c":2,"m":"K-B&B","t":150,"y":1.002,"lo":1,"hi":1.007},
{"r":6,"c":2,"m":"K-B&B","t":300,"y":1.001,"lo":1,"hi":1.005},
{"r":6,"c":2,"m":"K-B&B","t":500,"y":1.0005,"lo":1,"hi":1.004},
{"r":6,"c":2,"m":"K-B&B","t":800,"y":1,"lo":1,"hi":1.002},
{"r":6,"c":2,"m":"K-B&B","t":1200,"y":1,"lo":1,"hi":1.001},
{"r":6,"c":2,"m":"K-B&B","t":1800,"y":1,"lo":1,"hi":1},
{"r":6,"c":2,"m":"K-B&B-NodeSelection","t":0,"y":1.1,"lo":1.05,"hi":1.2},
{"r":6,"c":2,"m":"K-B&B-NodeSelection","t":15,"y":1.018,"lo":0.999,"hi":1.04},
{"r":6,"c":2,"m":"K-B&B-NodeSelection","t":40,"y":1.009,"lo":0.999,"hi":1.025},
{"r":6,"c":2,"m":"K-B&B-NodeSelection","t":80,"y":1.005,"lo":0.999,"hi":1.018},
{"r":6,"c":2,"m":"K-B&B-NodeSelection","t":150,"y":1.003,"lo":0.999,"hi":1.013},
{"r":6,"c":2,"m":"K-B&B-NodeSelection","t":300,"y":1.002,"lo":0.999,"hi":1.01},
{"r":6,"c":2,"m":"K-B&B-NodeSelection","t":500,"y":1.0015,"lo":0.999,"hi":1.008},
{"r":6,"c":2,"m":"K-B&B-NodeSelection","t":800,"y":1.001,"lo":0.999,"hi":1.007},
{"r":6,"c":2,"m":"K-B&B-NodeSelection","t":1200,"y":1,"lo":0.999,"hi":1.006},
{"r":6,"c":2,"m":"K-B&B-NodeSelection","t":1800,"y":1,"lo":0.999,"hi":1.005},
{"r":6,"c":3,"m":"K-B&B","t":0,"y":1.1,"lo":1.05,"hi":1.2},
{"r":6,"c":3,"m":"K-B&B","t":15,"y":1.012,"lo":0.999,"hi":1.03},
{"r":6,"c":3,"m":"K-B&B","t":40,"y":1.006,"lo":0.999,"hi":1.02},
{"r":6,"c":3,"m":"K-B&B","t":80,"y":1.003,"lo":0.999,"hi":1.013},
{"r":6,"c":3,"m":"K-B&B","t":150,"y":1.002,"lo":1,"hi":1.01},
{"r":6,"c":3,"m":"K-B&B","t":300,"y":1.001,"lo":1,"hi":1.007},
{"r":6,"c":3,"m":"K-B&B","t":500,"y":1,"lo":1,"hi":1.005},
{"r":6,"c":3,"m":"K-B&B","t":800,"y":1,"lo":1,"hi":1.003},
{"r":6,"c":3,"m":"K-B&B","t":1200,"y":1,"lo":1,"hi":1.001},
{"r":6,"c":3,"m":"K-B&B","t":1800,"y":1,"lo":1,"hi":1},
{"r":6,"c":3,"m":"K-B&B-NodeSelection","t":0,"y":1.1,"lo":1.05,"hi":1.2},
{"r":6,"c":3,"m":"K-B&B-NodeSelection","t":15,"y":1.01,"lo":0.998,"hi":1.025},
{"r":6,"c":3,"m":"K-B&B-NodeSelection","t":40,"y":1.005,"lo":0.997,"hi":1.015},
{"r":6,"c":3,"m":"K-B&B-NodeSelection","t":80,"y":1.002,"lo":0.997,"hi":1.01},
{"r":6,"c":3,"m":"K-B&B-NodeSelection","t":150,"y":1.001,"lo":0.997,"hi":1.007},
{"r":6,"c":3,"m":"K-B&B-NodeSelection","t":300,"y":1,"lo":0.997,"hi":1.005},
{"r":6,"c":3,"m":"K-B&B-NodeSelection","t":500,"y":1,"lo":0.997,"hi":1.003},
{"r":6,"c":3,"m":"K-B&B-NodeSelection","t":800,"y":1,"lo":0.997,"hi":1.002},
{"r":6,"c":3,"m":"K-B&B-NodeSelection","t":1200,"y":1,"lo":0.997,"hi":1.001},
{"r":6,"c":3,"m":"K-B&B-NodeSelection","t":1800,"y":1,"lo":0.997,"hi":1},
{"r":6,"c":4,"m":"K-B&B","t":0,"y":1.1,"lo":1.05,"hi":1.2},
{"r":6,"c":4,"m":"K-B&B","t":15,"y":1.012,"lo":0.999,"hi":1.03},
{"r":6,"c":4,"m":"K-B&B","t":40,"y":1.006,"lo":0.999,"hi":1.02},
{"r":6,"c":4,"m":"K-B&B","t":80,"y":1.003,"lo":0.999,"hi":1.013},
{"r":6,"c":4,"m":"K-B&B","t":150,"y":1.002,"lo":1,"hi":1.01},
{"r":6,"c":4,"m":"K-B&B","t":300,"y":1.001,"lo":1,"hi":1.007},
{"r":6,"c":4,"m":"K-B&B","t":500,"y":1,"lo":1,"hi":1.005},
{"r":6,"c":4,"m":"K-B&B","t":800,"y":1,"lo":1,"hi":1.003},
{"r":6,"c":4,"m":"K-B&B","t":1200,"y":1,"lo":1,"hi":1.001},
{"r":6,"c":4,"m":"K-B&B","t":1800,"y":1,"lo":1,"hi":1},
{"r":6,"c":4,"m":"K-B&B-NodeSelection","t":0,"y":1.1,"lo":1.05,"hi":1.2},
{"r":6,"c":4,"m":"K-B&B-NodeSelection","t":15,"y":1.01,"lo":0.998,"hi":1.025},
{"r":6,"c":4,"m":"K-B&B-NodeSelection","t":40,"y":1.005,"lo":0.997,"hi":1.015},
{"r":6,"c":4,"m":"K-B&B-NodeSelection","t":80,"y":1.002,"lo":0.997,"hi":1.01},
{"r":6,"c":4,"m":"K-B&B-NodeSelection","t":150,"y":1.001,"lo":0.997,"hi":1.007},
{"r":6,"c":4,"m":"K-B&B-NodeSelection","t":300,"y":1,"lo":0.997,"hi":1.005},
{"r":6,"c":4,"m":"K-B&B-NodeSelection","t":500,"y":1,"lo":0.997,"hi":1.003},
{"r":6,"c":4,"m":"K-B&B-NodeSelection","t":800,"y":1,"lo":0.997,"hi":1.002},
{"r":6,"c":4,"m":"K-B&B-NodeSelection","t":1200,"y":1,"lo":0.997,"hi":1.001},
{"r":6,"c":4,"m":"K-B&B-NodeSelection","t":1800,"y":1,"lo":0.997,"hi":1},
{"r":6,"c":5,"m":"K-B&B","t":0,"y":1.1,"lo":1.05,"hi":1.2},
{"r":6,"c":5,"m":"K-B&B","t":15,"y":1.012,"lo":0.999,"hi":1.03},
{"r":6,"c":5,"m":"K-B&B","t":40,"y":1.006,"lo":0.999,"hi":1.02},
{"r":6,"c":5,"m":"K-B&B","t":80,"y":1.003,"lo":0.999,"hi":1.014},
{"r":6,"c":5,"m":"K-B&B","t":150,"y":1.002,"lo":1,"hi":1.011},
{"r":6,"c":5,"m":"K-B&B","t":300,"y":1.001,"lo":1,"hi":1.007},
{"r":6,"c":5,"m":"K-B&B","t":500,"y":1,"lo":1,"hi":1.005},
{"r":6,"c":5,"m":"K-B&B","t":800,"y":1,"lo":1,"hi":1.003},
{"r":6,"c":5,"m":"K-B&B","t":1200,"y":1,"lo":1,"hi":1.001},
{"r":6,"c":5,"m":"K-B&B","t":1800,"y":1,"lo":1,"hi":1},
{"r":6,"c":5,"m":"K-B&B-NodeSelection","t":0,"y":1.1,"lo":1.05,"hi":1.2},
{"r":6,"c":5,"m":"K-B&B-NodeSelection","t":15,"y":1.01,"lo":0.998,"hi":1.025},
{"r":6,"c":5,"m":"K-B&B-NodeSelection","t":40,"y":1.005,"lo":0.997,"hi":1.015},
{"r":6,"c":5,"m":"K-B&B-NodeSelection","t":80,"y":1.002,"lo":0.996,"hi":1.01},
{"r":6,"c":5,"m":"K-B&B-NodeSelection","t":150,"y":1.001,"lo":0.996,"hi":1.007},
{"r":6,"c":5,"m":"K-B&B-NodeSelection","t":300,"y":1,"lo":0.996,"hi":1.005},
{"r":6,"c":5,"m":"K-B&B-NodeSelection","t":500,"y":1,"lo":0.996,"hi":1.003},
{"r":6,"c":5,"m":"K-B&B-NodeSelection","t":800,"y":1,"lo":0.996,"hi":1.002},
{"r":6,"c":5,"m":"K-B&B-NodeSelection","t":1200,"y":1,"lo":0.996,"hi":1.001},
{"r":6,"c":5,"m":"K-B&B-NodeSelection","t":1800,"y":1,"lo":0.996,"hi":1},
{"r":6,"c":6,"m":"K-B&B","t":0,"y":1.1,"lo":1.05,"hi":1.2},
{"r":6,"c":6,"m":"K-B&B","t":15,"y":1.012,"lo":0.999,"hi":1.03},
{"r":6,"c":6,"m":"K-B&B","t":40,"y":1.006,"lo":0.999,"hi":1.02},
{"r":6,"c":6,"m":"K-B&B","t":80,"y":1.003,"lo":0.999,"hi":1.013},
{"r":6,"c":6,"m":"K-B&B","t":150,"y":1.002,"lo":1,"hi":1.01},
{"r":6,"c":6,"m":"K-B&B","t":300,"y":1.001,"lo":1,"hi":1.007},
{"r":6,"c":6,"m":"K-B&B","t":500,"y":1,"lo":1,"hi":1.005},
{"r":6,"c":6,"m":"K-B&B","t":800,"y":1,"lo":1,"hi":1.003},
{"r":6,"c":6,"m":"K-B&B","t":1200,"y":1,"lo":1,"hi":1.001},
{"r":6,"c":6,"m":"K-B&B","t":1800,"y":1,"lo":1,"hi":1},
{"r":6,"c":6,"m":"K-B&B-NodeSelection","t":0,"y":1.1,"lo":1.05,"hi":1.2},
{"r":6,"c":6,"m":"K-B&B-NodeSelection","t":15,"y":1.01,"lo":0.998,"hi":1.025},
{"r":6,"c":6,"m":"K-B&B-NodeSelection","t":40,"y":1.005,"lo":0.997,"hi":1.015},
{"r":6,"c":6,"m":"K-B&B-NodeSelection","t":80,"y":1.002,"lo":0.997,"hi":1.01},
{"r":6,"c":6,"m":"K-B&B-NodeSelection","t":150,"y":1.001,"lo":0.997,"hi":1.007},
{"r":6,"c":6,"m":"K-B&B-NodeSelection","t":300,"y":1,"lo":0.997,"hi":1.005},
{"r":6,"c":6,"m":"K-B&B-NodeSelection","t":500,"y":1,"lo":0.997,"hi":1.003},
{"r":6,"c":6,"m":"K-B&B-NodeSelection","t":800,"y":1,"lo":0.997,"hi":1.002},
{"r":6,"c":6,"m":"K-B&B-NodeSelection","t":1200,"y":1,"lo":0.997,"hi":1.001},
{"r":6,"c":6,"m":"K-B&B-NodeSelection","t":1800,"y":1,"lo":0.997,"hi":1}
]},
"facet": {
  "row": {"field": "r", "type": "ordinal", "header": {"title": null, "labelExpr": "'Kᵗᵉˢᵗ = ' + datum.value", "labelAngle": 0, "labelOrient": "left", "labelAlign": "left", "labelFontSize": 11.5, "labelFont": "Liberation Sans", "labelColor": "#222222", "labelPadding": 0}},
  "column": {"field": "c", "type": "ordinal", "header": {"title": null, "labelExpr": "'Kᵗʳᵃⁱⁿ = ' + datum.value", "labelFontSize": 12, "labelFont": "Liberation Sans", "labelColor": "#222222", "labelPadding": 2}}
},
"spacing": {"row": 6.5, "column": 26},
"spec": {
  "width": 109,
  "height": 43,
  "layer": [
    {"transform": [{"filter": "datum.m == 'K-B&B'"}],
     "mark": {"type": "area", "color": "black", "opacity": 0.35, "clip": true},
     "encoding": {
       "x": {"field": "t", "type": "quantitative", "scale": {"domain": [-90, 1890], "nice": false, "zero": false}, "axis": {"tickCount": 4, "format": "d", "labelOverlap": false, "labelFlush": false, "labelBound": false, "labelSeparation": 0, "labelFontSize": 9.5, "title": "Runtime (sec)", "labelPadding": 1, "titlePadding": 1}},
       "y": {"field": "lo", "type": "quantitative", "scale": {"domain": [0.985, 1.031], "nice": false, "zero": false}, "axis": {"values": [1.0, 1.025], "format": ".3f", "title": "Rel. OFV"}},
       "y2": {"field": "hi"}
     }},
    {"transform": [{"filter": "datum.m == 'K-B&B-NodeSelection'"}],
     "mark": {"type": "area", "color": "red", "opacity": 0.33, "clip": true},
     "encoding": {
       "x": {"field": "t", "type": "quantitative"},
       "y": {"field": "lo", "type": "quantitative"},
       "y2": {"field": "hi"}
     }},
    {"mark": {"type": "line", "clip": true},
     "encoding": {
       "x": {"field": "t", "type": "quantitative"},
       "y": {"field": "y", "type": "quantitative"},
       "strokeWidth": {"field": "m", "type": "nominal", "scale": {"domain": ["K-B&B", "K-B&B-NodeSelection"], "range": [2, 2.6]}, "legend": null},
       "color": {"field": "m", "type": "nominal", "scale": {"domain": ["K-B&B", "K-B&B-NodeSelection"], "range": ["black", "red"]},
         "legend": {"title": null, "orient": "none", "legendX": 534, "legendY": -49, "symbolType": "stroke", "symbolStrokeWidth": 2.2, "symbolSize": 225, "labelFontSize": 9, "labelFont": "Liberation Sans", "labelColor": "#222222", "strokeColor": "#cccccc", "fillColor": "white", "padding": 3, "cornerRadius": 3, "rowPadding": 0, "labelOffset": 5}}
     }}
  ]
},
"config": {
  "view": {"stroke": "#dddddd", "strokeWidth": 1},
  "axis": {"domain": false, "ticks": false, "gridColor": "#e6e6e6", "gridWidth": 1, "labelFont": "Liberation Sans", "labelFontSize": 10, "labelColor": "#333333", "titleFont": "Liberation Sans", "titleFontSize": 14, "titleFontWeight": "normal", "titleColor": "#222222", "labelPadding": 3, "titlePadding": 4, "labelOverlap": false},
  "axisX": {"labelOverlap": false, "labelFlush": false}
}
}
